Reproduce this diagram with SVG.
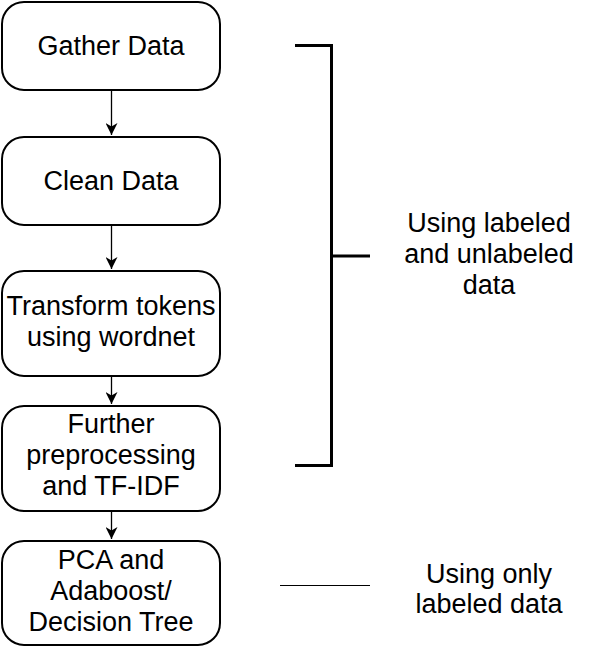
<svg xmlns="http://www.w3.org/2000/svg" width="600" height="649" viewBox="0 0 600 649">
<style>
.box{fill:#fff;stroke:#000;stroke-width:2}
.t{font-family:"Liberation Sans",Arial,sans-serif;font-size:27px;fill:#000;text-anchor:middle}
.c{stroke:#000;stroke-width:1.3;fill:none}
.br{stroke:#000;stroke-width:3;fill:none}
</style>
<defs>
<marker id="arr" markerWidth="12" markerHeight="12" refX="10" refY="5" orient="auto" markerUnits="userSpaceOnUse" viewBox="0 0 10 10">
<path d="M0,0 L10,5 L0,10 L3,5 Z" fill="#000"/>
</marker>
</defs>
<rect width="600" height="649" fill="#fff"/>
<g id="connectors">
<line class="c" x1="111.5" y1="91" x2="111.5" y2="135" marker-end="url(#arr)"/>
<line class="c" x1="111.5" y1="226" x2="111.5" y2="269" marker-end="url(#arr)"/>
<line class="c" x1="111.5" y1="377" x2="111.5" y2="404" marker-end="url(#arr)"/>
<line class="c" x1="111.5" y1="512" x2="111.5" y2="539" marker-end="url(#arr)"/>
</g>
<g id="n1"><rect class="box" x="2" y="2" width="218" height="88" rx="22"/><text class="t" x="111" y="55">Gather Data</text></g>
<g id="n2"><rect class="box" x="2" y="137" width="218" height="88" rx="22"/><text class="t" x="111" y="190">Clean Data</text></g>
<g id="n3"><rect class="box" x="2" y="271" width="218" height="105" rx="22"/><text class="t" x="111" y="315">Transform tokens</text><text class="t" x="111" y="346">using wordnet</text></g>
<g id="n4"><rect class="box" x="2" y="406" width="218" height="105" rx="22"/><text class="t" x="111" y="433">Further</text><text class="t" x="111" y="464">preprocessing</text><text class="t" x="111" y="495">and TF-IDF</text></g>
<g id="n5"><rect class="box" x="2" y="541" width="218" height="104" rx="22"/><text class="t" x="111" y="569">PCA and</text><text class="t" x="111" y="600">Adaboost/</text><text class="t" x="111" y="631">Decision Tree</text></g>
<g id="bracket">
<path class="br" d="M295,45.5 H331.5 V465.5 H295"/>
<line class="br" x1="331.5" y1="256" x2="370" y2="256"/>
<text class="t" x="489" y="232">Using labeled</text><text class="t" x="489" y="263">and unlabeled</text><text class="t" x="489" y="294">data</text>
</g>
<g id="only">
<line x1="280" y1="585.5" x2="370" y2="585.5" stroke="#000" stroke-width="1"/>
<text class="t" x="489" y="583">Using only</text><text class="t" x="489" y="613">labeled data</text>
</g>
</svg>
